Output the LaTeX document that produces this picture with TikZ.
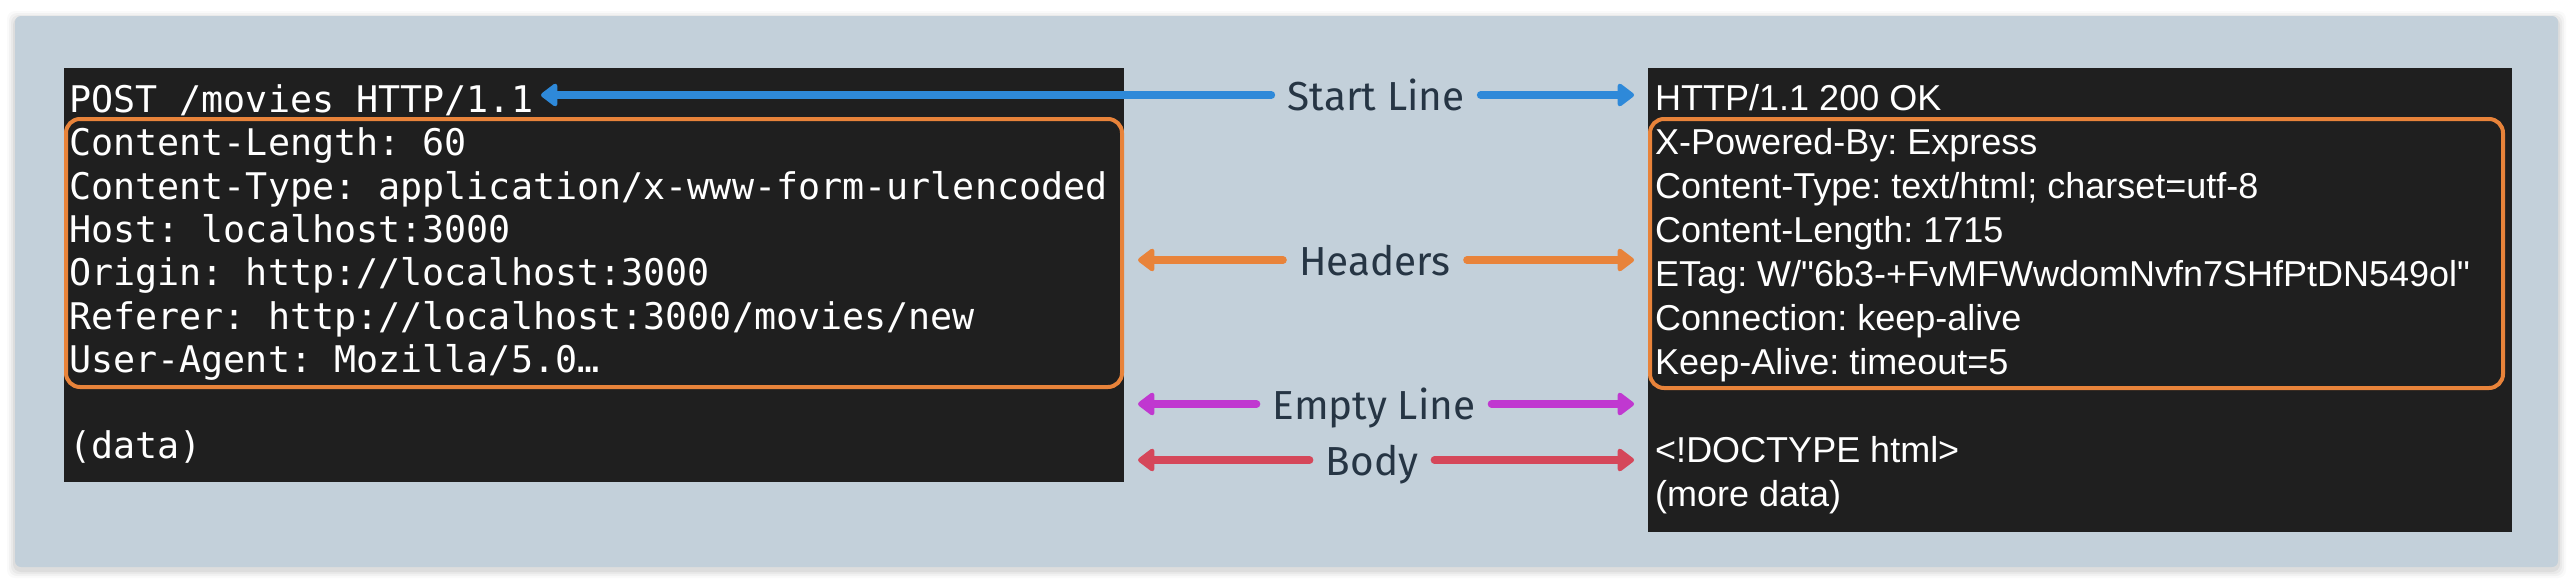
\documentclass[tikz,border=0pt]{standalone}
\usepackage{fontspec}
\setmainfont{Liberation Sans}[Ligatures=TeXOff]
\newfontfamily\monof{DejaVu Sans Mono}[Ligatures=TeXOff]
\newfontfamily\labf{Fira Sans}
\usetikzlibrary{arrows.meta}
\frenchspacing
\definecolor{bgc}{HTML}{C3D0DA}
\definecolor{darkc}{HTML}{1F1F1F}
\definecolor{labc}{HTML}{263544}
\definecolor{cblue}{HTML}{2E89D9}
\definecolor{corange}{HTML}{E8833A}
\definecolor{cmag}{HTML}{C038D0}
\definecolor{cred}{HTML}{D5475A}
\begin{document}
\begin{tikzpicture}[x=1pt,y=-1pt,
  monoline/.style={anchor=base west, inner sep=0pt, text=white, font=\monof\fontsize{36.7}{44}\selectfont},
  sansline/.style={anchor=base west, inner sep=0pt, text=white, font=\fontsize{36}{44}\selectfont},
  lab/.style={anchor=center, inner ysep=0pt, inner xsep=16pt, text height=31pt, text depth=0pt, text=labc, font=\labf\fontsize{40.5}{48}\selectfont},
  conn/.style={line width=7.5pt, line cap=round, -{Triangle[length=18pt,width=26pt,round]}},
  hdrbox/.style={draw=corange, line width=4pt, rounded corners=14pt}
]
\useasboundingbox (0,0) rectangle (2576,584);
% shadow
\foreach \e/\o in {8/0.02,6/0.03,4/0.04,2/0.05}{
  \fill[black, opacity=\o, rounded corners=8pt] (15-\e,16-\e+3) rectangle (2558+\e,567+\e+3);
}
\fill[bgc, rounded corners=6pt] (15,16) rectangle (2558,567);
% dark panels
\fill[darkc] (64,68) rectangle (1124,482);
\fill[darkc] (1648,68) rectangle (2512,532);
% header boxes
\draw[hdrbox] (66,119) rectangle (1122,387);
\draw[hdrbox] (1650,119) rectangle (2503,388);
% request text
\node[monoline] (l1) at (69,112.5) {POST /movies HTTP/1.1};
\node[monoline] (l2) at (69,155.8) {Content-Length: 60};
\node[monoline] (l3) at (69,199.1) {Content-Type: application/x-www-form-urlencoded};
\node[monoline] (l4) at (69,242.4) {Host: localhost:3000};
\node[monoline] (l5) at (69,285.7) {Origin: http://localhost:3000};
\node[monoline] (l6) at (69,329.0) {Referer: http://localhost:3000/movies/new};
\node[monoline] (l7) at (69,372.3) {User-Agent: Mozilla/5.0…};
\node[monoline] (l8) at (69,458.9) {(data)};
% response text
\node[sansline] (r1) at (1655,110) {HTTP/1.1 200 OK};
\node[sansline] (r2) at (1655,154.1) {X-Powered-By: Express};
\node[sansline] (r3) at (1655,198.2) {Content-Type: text/html; charset=utf-8};
\node[sansline] (r4) at (1655,242.3) {Content-Length: 1715};
\node[sansline] (r5) at (1655,286.4) {ETag: W/"6b3-+FvMFWwdomNvfn7SHfPtDN549ol"};
\node[sansline] (r6) at (1655,330.5) {Connection: keep-alive};
\node[sansline] (r7) at (1655,374.6) {Keep-Alive: timeout=5};
\node[sansline] (r8) at (1655,462.8) {<!DOCTYPE html>};
\node[sansline] (r9) at (1655,506.9) {(more data)};
% labels
\node[lab] (sl) at (1376,95) {Start Line};
\node[lab] (hd) at (1375,260) {Headers};
\node[lab] (el) at (1374,404) {Empty Line};
\node[lab] (bd) at (1372,460) {Body};
% tips
\coordinate (slL) at (541,95);
\coordinate (slR) at (1634,95);
\coordinate (hdL) at (1138,260);
\coordinate (hdR) at (1634,260);
\coordinate (elL) at (1138,404);
\coordinate (elR) at (1634,404);
\coordinate (bdL) at (1138,460);
\coordinate (bdR) at (1634,460);
\draw[conn, cblue] (sl.west) -- (slL);
\draw[conn, cblue] (sl.east) -- (slR);
\draw[conn, corange] (hd.west) -- (hdL);
\draw[conn, corange] (hd.east) -- (hdR);
\draw[conn, cmag] (el.west) -- (elL);
\draw[conn, cmag] (el.east) -- (elR);
\draw[conn, cred] (bd.west) -- (bdL);
\draw[conn, cred] (bd.east) -- (bdR);
\end{tikzpicture}
\end{document}
